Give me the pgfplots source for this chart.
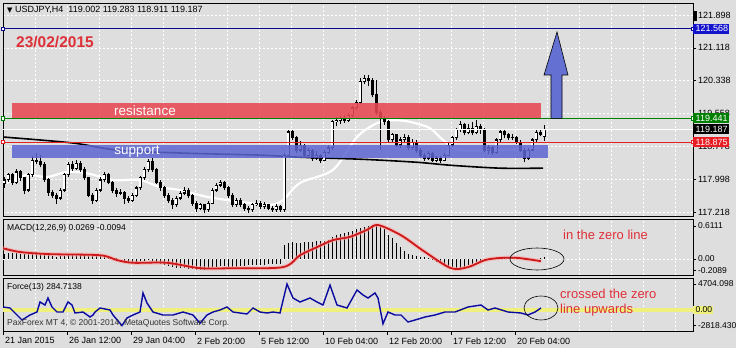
\documentclass[border=0pt]{standalone}
\usepackage{pgfplots}
\pgfplotsset{compat=1.18}
\usepackage{pgfplotstable}
\usepackage{fontspec}
\setmainfont{Liberation Sans}
\newfontfamily\dejavu{DejaVu Sans}
\definecolor{bg}{RGB}{222,222,222}
\definecolor{resred}{RGB}{232,72,82}
\definecolor{supblue}{RGB}{92,102,208}
\definecolor{arrowblue}{RGB}{100,112,210}
\definecolor{annred}{RGB}{222,48,56}
\definecolor{navyl}{RGB}{10,10,140}
\definecolor{lblblue}{RGB}{20,20,205}
\definecolor{lblgreen}{RGB}{0,128,0}
\definecolor{lblred}{RGB}{232,30,36}
\definecolor{macdred}{RGB}{205,25,25}
\definecolor{forceblue}{RGB}{10,10,160}
\definecolor{zeroyellow}{RGB}{240,240,125}

\pgfplotstableread{
i o h l c
0 117.90 118.05 117.80 117.98
1 117.98 118.15 117.93 118.10
2 118.10 118.14 117.85 117.91
3 117.91 118.25 117.88 118.17
4 118.17 118.22 117.96 118.03
5 118.03 118.06 117.64 117.74
6 117.74 118.14 117.70 118.10
7 118.10 118.55 118.06 118.45
8 118.45 118.62 118.35 118.41
9 118.41 118.58 118.28 118.34
10 118.34 118.40 117.93 117.98
11 117.98 118.02 117.60 117.69
12 117.69 117.75 117.55 117.62
13 117.62 117.66 117.40 117.55
14 117.55 117.80 117.50 117.74
15 117.74 118.14 117.70 118.10
16 118.10 118.40 118.05 118.34
17 118.34 118.42 118.20 118.26
18 118.26 118.45 118.22 118.38
19 118.38 118.42 118.16 118.22
20 118.22 118.28 117.98 118.03
21 118.03 118.06 117.57 117.62
22 117.62 117.68 117.40 117.50
23 117.50 117.80 117.46 117.74
24 117.74 118.04 117.70 117.98
25 117.98 118.16 117.94 118.10
26 118.10 118.14 117.88 117.93
27 117.93 117.96 117.66 117.74
28 117.74 117.80 117.58 117.67
29 117.67 117.76 117.62 117.69
30 117.69 117.72 117.42 117.55
31 117.55 117.60 117.44 117.50
32 117.50 117.67 117.46 117.62
33 117.62 117.84 117.58 117.79
34 117.79 118.08 117.75 118.03
35 118.03 118.28 117.98 118.22
36 118.22 118.48 118.18 118.41
37 118.41 118.50 118.18 118.22
38 118.22 118.26 117.88 117.93
39 117.93 117.98 117.72 117.79
40 117.79 117.84 117.56 117.62
41 117.62 117.66 117.44 117.50
42 117.50 117.56 117.30 117.39
43 117.39 117.60 117.34 117.55
44 117.55 117.72 117.50 117.67
45 117.67 117.82 117.62 117.74
46 117.74 117.78 117.54 117.60
47 117.60 117.64 117.36 117.43
48 117.43 117.48 117.22 117.31
49 117.31 117.44 117.26 117.39
50 117.39 117.42 117.20 117.27
51 117.27 117.48 117.22 117.43
52 117.43 117.78 117.40 117.74
53 117.74 117.90 117.70 117.86
54 117.86 117.98 117.82 117.91
55 117.91 117.95 117.74 117.79
56 117.79 117.83 117.56 117.62
57 117.62 117.66 117.33 117.39
58 117.39 117.55 117.34 117.50
59 117.50 117.54 117.33 117.39
60 117.39 117.44 117.24 117.31
61 117.31 117.36 117.20 117.27
62 117.27 117.44 117.22 117.39
63 117.39 117.50 117.35 117.43
64 117.43 117.47 117.28 117.34
65 117.34 117.45 117.30 117.39
66 117.39 117.42 117.26 117.31
67 117.31 117.35 117.22 117.27
68 117.27 117.40 117.22 117.36
69 117.36 117.38 117.21 117.27
70 117.27 118.62 117.22 118.57
71 118.57 119.18 118.52 119.12
72 119.12 119.20 118.92 118.98
73 118.98 119.02 118.62 118.69
74 118.69 118.90 118.64 118.81
75 118.81 118.84 118.50 118.57
76 118.57 118.74 118.52 118.69
77 118.69 118.72 118.44 118.50
78 118.50 118.66 118.46 118.57
79 118.57 118.60 118.38 118.45
80 118.45 118.70 118.42 118.64
81 118.64 118.80 118.60 118.74
82 118.74 119.40 118.70 119.36
83 119.36 119.48 119.25 119.40
84 119.40 119.50 119.30 119.43
85 119.43 119.52 119.33 119.40
86 119.40 119.58 119.36 119.52
87 119.52 119.74 119.48 119.69
88 119.69 119.88 119.64 119.81
89 119.81 120.40 119.78 120.31
90 120.31 120.48 120.25 120.40
91 120.40 120.47 120.20 120.35
92 120.35 120.40 119.95 120.00
93 120.00 120.35 119.52 119.59
94 119.59 119.64 118.70 119.45
95 119.45 119.50 119.28 119.36
96 119.36 119.40 118.86 118.93
97 118.93 119.10 118.88 119.05
98 119.05 119.08 118.76 118.81
99 118.81 119.00 118.74 118.93
100 118.93 119.06 118.88 119.00
101 119.00 119.04 118.68 118.74
102 118.74 118.96 118.70 118.88
103 118.88 118.92 118.62 118.69
104 118.69 118.74 118.50 118.57
105 118.57 118.62 118.44 118.50
106 118.50 118.66 118.46 118.62
107 118.62 118.65 118.40 118.45
108 118.45 118.56 118.40 118.50
109 118.50 118.55 118.38 118.45
110 118.45 118.62 118.42 118.57
111 118.57 118.86 118.54 118.81
112 118.81 119.02 118.76 118.98
113 118.98 119.22 118.94 119.17
114 119.17 119.38 119.12 119.29
115 119.29 119.34 119.04 119.10
116 119.10 119.30 119.06 119.21
117 119.21 119.36 119.04 119.10
118 119.10 119.40 119.06 119.26
119 119.26 119.30 119.08 119.17
120 119.17 119.22 118.64 118.69
121 118.69 118.80 118.60 118.74
122 118.74 118.78 118.58 118.64
123 118.64 118.98 118.60 118.93
124 118.93 119.20 118.88 119.12
125 119.12 119.16 118.98 119.05
126 119.05 119.10 118.92 118.98
127 118.98 119.06 118.92 118.98
128 118.98 119.02 118.84 118.88
129 118.88 118.92 118.64 118.69
130 118.69 118.74 118.40 118.50
131 118.50 118.74 118.45 118.69
132 118.69 118.98 118.66 118.93
133 118.93 119.18 118.88 119.10
134 119.10 119.16 119.02 119.07
135 119.002 119.283 118.911 119.187
}\candles

\pgfplotstableread{
i v
0 0.10
1 0.11
2 0.12
3 0.11
4 0.10
5 0.09
6 0.10
7 0.12
8 0.13
9 0.12
10 0.10
11 0.08
12 0.05
13 0.04
14 0.05
15 0.06
16 0.07
17 0.08
18 0.08
19 0.08
20 0.07
21 0.06
22 0.05
23 0.05
24 0.06
25 0.04
26 0.03
27 0.02
28 0.01
29 0.00
30 -0.03
31 -0.05
32 -0.06
33 -0.05
34 -0.04
35 -0.03
36 -0.02
37 -0.04
38 -0.07
39 -0.09
40 -0.11
41 -0.13
42 -0.15
43 -0.16
44 -0.17
45 -0.17
46 -0.18
47 -0.19
48 -0.20
49 -0.21
50 -0.20
51 -0.18
52 -0.15
53 -0.14
54 -0.13
55 -0.13
56 -0.14
57 -0.15
58 -0.14
59 -0.13
60 -0.13
61 -0.12
62 -0.12
63 -0.12
64 -0.11
65 -0.11
66 -0.10
67 -0.10
68 -0.10
69 -0.10
70 0.26
71 0.30
72 0.31
73 0.30
74 0.30
75 0.31
76 0.32
77 0.32
78 0.33
79 0.33
80 0.34
81 0.36
82 0.40
83 0.44
84 0.46
85 0.48
86 0.50
87 0.52
88 0.55
89 0.58
90 0.60
91 0.62
92 0.63
93 0.63
94 0.60
95 0.55
96 0.45
97 0.38
98 0.30
99 0.22
100 0.15
101 0.10
102 0.07
103 0.05
104 0.04
105 0.03
106 0.02
107 -0.02
108 -0.05
109 -0.08
110 -0.10
111 -0.13
112 -0.15
113 -0.17
114 -0.17
115 -0.15
116 -0.12
117 -0.09
118 -0.06
119 -0.04
120 -0.02
121 0.00
122 0.02
123 0.03
124 0.03
125 0.04
126 0.03
127 0.02
128 0.01
129 0.00
130 -0.01
131 -0.01
132 -0.01
133 0.00
134 0.02
135 0.03
}\macdhist

\pgfplotsset{
  mtpanel/.style={
    scale only axis, width=690pt, xmin=-0.25, xmax=172.25,
    axis line style={black, line width=0.8pt},
    axis background/.style={fill=bg},
    xtick={-0.25,7.75,...,171},
    xticklabels={},
    xmajorgrids,
    major grid style={white, dash pattern=on 2pt off 2pt, line width=0.6pt},
    xtick style={draw=none},
    ytick pos=right, yticklabel pos=right,
    xtick pos=bottom,
    tick align=outside,
    ytick style={black, line width=0.6pt},
    major tick length=3pt,
    yticklabel style={font=\fontsize{9}{10}\selectfont, xshift=-1.5pt},
    clip mode=individual,
  },
  wick/.style={mark=none, draw=none, error bars/.cd, y dir=plus, y explicit, error mark=none,
    error bar style={draw=black, line width=0.8pt, solid}},
}

\begin{document}
\begin{tikzpicture}
\path[use as bounding box, fill=bg] (0,0) rectangle (736pt,348pt);

% ---------- main price panel ----------
\begin{axis}[mtpanel, at={(3pt,132pt)}, anchor=south west, height=213pt,
  ymin=117.124, ymax=122.183,
  ytick={117.218,117.998,118.778,119.558,120.338,121.118,121.898},
  yticklabels={117.218,117.998,118.778,119.558,120.338,121.118,121.898},
  ymajorgrids]
% white moving average
\addplot[white, line width=2.2pt, smooth, tension=0.5] coordinates {
 (0.75,117.91) (5.75,118.10) (10.75,118.05) (15.75,118.17) (20.75,118.14) (27.25,117.98)
 (34,117.98) (39,117.81) (44,117.74) (50.75,117.58) (59,117.46) (66.5,117.39)
 (69.75,117.50) (74,117.91) (82.25,118.22) (88.25,119.00) (93.25,119.33) (97.25,119.40)
 (101.5,119.36) (106.5,119.21) (109.75,118.93) (114,118.69) (124,118.69) (134,118.74)};
% black long moving average
\addplot[black, line width=1.6pt, smooth] coordinates {
 (-0.25,119.00) (17,118.86) (28.25,118.69) (44,118.62) (64,118.57) (74,118.52)
 (89.75,118.47) (103.25,118.40) (111.5,118.33) (124,118.26) (134.75,118.26)};
% candles: wicks
\addplot[wick] table[x=i, y=l, y error plus expr=\thisrow{h}-\thisrow{l}] {\candles};
% bodies
\addplot[mark=none, draw=none, error bars/.cd, y dir=plus, y explicit, error mark=none,
  error bar style={draw=black, line width=3pt, solid}]
  table[x=i, y expr={min(\thisrow{o},\thisrow{c})-0.012},
        y error plus expr={max(abs(\thisrow{c}-\thisrow{o}),0.0)+0.024}] {\candles};
\addplot[mark=none, draw=none, error bars/.cd, y dir=plus, y explicit, error mark=none,
  error bar style={draw=white, line width=1.1pt, solid}]
  table[x=i, y expr={\thisrow{o}+0.014},
        y error plus expr={max(\thisrow{c}-\thisrow{o}-0.028,0)}] {\candles};
% boxes
\fill[resred, opacity=0.88] (axis cs:2,119.441) rectangle (axis cs:134.25,119.81);
\draw[red!45!black, line width=0.9pt] (axis cs:2,119.441) -- (axis cs:134.25,119.441);
\fill[supblue, opacity=0.85] (axis cs:2,118.50) rectangle (axis cs:136,118.81);
\node[white, font=\fontsize{13.5}{14}\selectfont] at (axis cs:35.25,119.635) {resistance};
\node[white, font=\fontsize{13.5}{14}\selectfont] at (axis cs:33.25,118.66) {support};
% horizontal lines
\addplot[navyl, line width=0.8pt, mark=square*, mark size=1.6pt, mark options={fill=white, solid}] coordinates {(-0.25,121.568) (172.25,121.568)};
\addplot[lblgreen, line width=0.8pt, mark=square*, mark size=1.6pt, mark options={fill=white}] coordinates {(-0.25,119.441) (172.25,119.441)};
\addplot[lblred, line width=0.8pt, mark=square*, mark size=1.6pt, mark options={fill=white}] coordinates {(-0.25,118.875) (172.25,118.875)};
\addplot[white, line width=0.8pt] coordinates {(-0.25,119.187) (172.25,119.187)};
% arrow
\filldraw[fill=arrowblue, draw=black, line width=0.6pt]
  (axis cs:136.75,119.441) -- (axis cs:136.75,120.473) -- (axis cs:135,120.473)
  -- (axis cs:138.25,121.494) -- (axis cs:141,120.473) -- (axis cs:139.5,120.473)
  -- (axis cs:139.5,119.441) -- cycle;
% right price labels
\fill[black] (axis cs:172.25,121.76) rectangle ++(4pt,10pt);
\node[fill=lblblue, text=white, anchor=west, inner sep=1pt, font=\fontsize{9}{10}\selectfont, minimum height=10pt] at (axis cs:172.25,121.568) {\,121.568};
\node[fill=lblgreen, text=white, anchor=west, inner sep=1pt, font=\fontsize{9}{10}\selectfont, minimum height=10pt] at (axis cs:172.25,119.441) {\,119.441};
\node[fill=black, text=white, anchor=west, inner sep=1pt, font=\fontsize{9}{10}\selectfont, minimum height=10pt] at (axis cs:172.25,119.187) {\,119.187};
\node[fill=lblred, text=white, anchor=west, inner sep=1pt, font=\fontsize{9}{10}\selectfont, minimum height=10pt] at (axis cs:172.25,118.875) {\,118.875};
\end{axis}

% ---------- MACD panel ----------
\begin{axis}[mtpanel, at={(3pt,73pt)}, anchor=south west, height=56pt,
  ymin=-0.296, ymax=0.741,
  ytick={-0.2089,0,0.6111}, yticklabels={-0.2089,0.00,0.6111},
  yticklabel style={font=\fontsize{8.5}{9}\selectfont}]
\draw[white, dash pattern=on 2pt off 2pt, line width=0.6pt] (axis cs:-0.25,0) -- (axis cs:172.25,0);
\addplot[ycomb, black, line width=0.7pt, mark=none] table[x=i, y=v] {\macdhist};
\addplot[red!35, line width=4pt, opacity=0.6, smooth] coordinates {
 (-0.25,0.20) (4,0.13) (11.5,0.09) (24,0.07) (28.25,-0.02) (32.25,-0.07) (40.75,-0.07)
 (49,-0.17) (57.25,-0.17) (69.75,-0.15) (74,0.07) (78.25,0.22) (82.25,0.35) (86.5,0.41)
 (90.75,0.54) (93.5,0.63) (99.25,0.44) (105.25,0.13) (111.75,-0.17) (116,-0.15)
 (120.25,-0.02) (124.25,0.02) (128.5,0.02) (134.25,-0.04)};
\addplot[macdred, line width=1.8pt, smooth] coordinates {
 (-0.25,0.20) (4,0.13) (11.5,0.09) (24,0.07) (28.25,-0.02) (32.25,-0.07) (40.75,-0.07)
 (49,-0.17) (57.25,-0.17) (69.75,-0.15) (74,0.07) (78.25,0.22) (82.25,0.35) (86.5,0.41)
 (90.75,0.54) (93.5,0.63) (99.25,0.44) (105.25,0.13) (111.75,-0.17) (116,-0.15)
 (120.25,-0.02) (124.25,0.02) (128.5,0.02) (134.25,-0.04)};
\end{axis}

% ---------- Force panel ----------
\begin{axis}[mtpanel, at={(3pt,17pt)}, anchor=south west, height=53pt,
  ymin=-3801, ymax=5792,
  ytick={-2818.43,0,4704.098}, yticklabels={-2818.430,,4704.098},
  yticklabel style={font=\fontsize{8.5}{9}\selectfont},
  extra x ticks={-0.25,15.75,31.75,47.75,63.75,79.75,95.75,111.75,127.75},
  extra x tick labels={21 Jan 2015,26 Jan 12:00,29 Jan 04:00,2 Feb 20:00,5 Feb 12:00,10 Feb 04:00,12 Feb 20:00,17 Feb 12:00,20 Feb 04:00},
  extra x tick style={xmajorgrids=false, major tick length=4pt, xtick style={draw=black, line width=0.6pt},
    xticklabel style={anchor=north west, xshift=-1.5pt, yshift=1pt, font=\fontsize{9}{10}\selectfont}}]
\addplot[zeroyellow, line width=4pt] coordinates {(-0.25,0) (172.25,0)};
\addplot[forceblue, line width=1.4pt] coordinates {
 (-0.25,543) (1.5,362) (3.25,-905) (4.5,-1810) (6.5,-905) (8.25,-362) (9,1448) (10.25,905)
 (11,2172) (12,543) (13.25,-362) (14.75,-362) (16,1448) (17,905) (17.75,-543) (19.75,-362)
 (21.5,-1267) (22.25,-905) (22.75,-362) (24,362) (26.5,0) (27.25,-905) (29.5,-2818)
 (30.75,-1448) (32.25,-905) (34,-362) (34.75,3077) (35.75,1267) (37.25,-362) (39.75,-905)
 (42.25,-905) (44.75,-362) (47.25,-905) (49,-2400) (50.75,-905) (52.25,-362) (54,0)
 (55.75,543) (57.25,-362) (60.75,-724) (62.25,362) (64,-362) (65.75,-543) (67.25,-362)
 (69,-543) (70.75,4704) (72.25,2172) (74,1448) (76.5,2172) (78.25,1448) (79.75,905)
 (81.5,4500) (83.25,905) (85.75,362) (88.25,3620) (89.75,2715) (91,2172) (92.75,3077)
 (93.5,2172) (94.75,-2500) (96,-362) (97.75,-905) (99.25,-905) (101,-2172) (102.75,-1810)
 (105.25,-1267) (107.75,-905) (110.25,-362) (112.75,-362) (116,543) (119.25,905) (121,0)
 (122.75,362) (126,-362) (129.25,-543) (131,-905) (132.75,-362) (134.25,362)};
\node[fill=zeroyellow, anchor=west, inner sep=1pt, font=\fontsize{8.5}{9}\selectfont] at (axis cs:172.25,0) {\,0.00};
\end{axis}

% ---------- texts ----------
\node[anchor=west, inner sep=0pt, font=\fontsize{9}{10}\selectfont] at (7pt,338pt)
  {{\dejavu\fontsize{7}{8}\selectfont ▼}\ USDJPY,H4\ \ 119.002 119.283 118.911 119.187};
\node[anchor=west, inner sep=0pt, text=annred, font=\bfseries\fontsize{15.5}{17}\selectfont] at (16pt,306pt) {23/02/2015};
\node[anchor=west, inner sep=0pt, font=\fontsize{8.5}{9}\selectfont] at (7pt,120pt) {MACD(12,26,9) 0.0269 -0.0094};
\node[anchor=west, inner sep=0pt, font=\fontsize{8.5}{9}\selectfont] at (7pt,61pt) {Force(13) 284.7138};
\node[anchor=west, inner sep=0pt, text=black!80, font=\fontsize{8.5}{9}\selectfont] at (7pt,25pt) {PaxForex MT 4, © 2001-2014, MetaQuotes Software Corp.};
\node[anchor=west, inner sep=0pt, text=annred, font=\fontsize{13}{14}\selectfont] at (563pt,113pt) {in the zero line};
\node[anchor=west, inner sep=0pt, text=annred, font=\fontsize{13}{14}\selectfont] at (560pt,54pt) {crossed the zero};
\node[anchor=west, inner sep=0pt, text=annred, font=\fontsize{13}{14}\selectfont] at (560pt,38pt) {line upwards};
\draw[black, line width=0.6pt] (537pt,89pt) ellipse (27pt and 11pt);
\draw[black, line width=0.6pt] (541pt,40pt) ellipse (17pt and 12pt);
\end{tikzpicture}
\end{document}
